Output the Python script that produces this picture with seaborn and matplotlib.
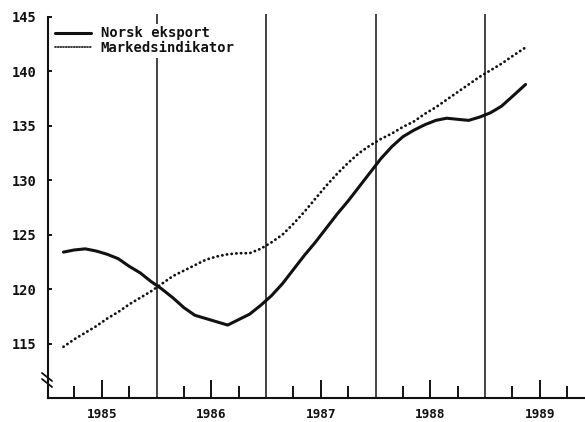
import matplotlib
matplotlib.use("Agg")
import matplotlib.pyplot as plt
import seaborn as sns
import pandas as pd
from matplotlib.lines import Line2D

# ---- data ----
tid = [1985.15, 1985.25, 1985.35, 1985.45, 1985.55, 1985.65, 1985.75, 1985.85, 1985.95,
       1986.05, 1986.15, 1986.25, 1986.35, 1986.45, 1986.55, 1986.65, 1986.75, 1986.85, 1986.95,
       1987.05, 1987.15, 1987.25, 1987.35, 1987.45, 1987.55, 1987.65, 1987.75, 1987.85, 1987.95,
       1988.05, 1988.15, 1988.25, 1988.35, 1988.45, 1988.55, 1988.65, 1988.75, 1988.85, 1988.95,
       1989.05, 1989.15, 1989.25, 1989.37]
norsk_eksport = [123.4, 123.6, 123.7, 123.5, 123.2, 122.8, 122.1, 121.5, 120.7,
                 120.0, 119.2, 118.3, 117.6, 117.3, 117.0, 116.7, 117.2, 117.7, 118.5,
                 119.4, 120.5, 121.8, 123.1, 124.3, 125.6, 126.9, 128.1, 129.4, 130.7,
                 132.0, 133.1, 134.0, 134.6, 135.1, 135.5, 135.7, 135.6, 135.5, 135.8,
                 136.2, 136.8, 137.7, 138.8]
markedsindikator = [114.7, 115.4, 116.0, 116.6, 117.3, 117.9, 118.6, 119.2, 119.8,
                    120.5, 121.2, 121.7, 122.2, 122.7, 123.0, 123.2, 123.3, 123.3, 123.7,
                    124.3, 125.0, 126.0, 127.1, 128.3, 129.5, 130.6, 131.6, 132.5, 133.2,
                    133.8, 134.3, 134.9, 135.4, 136.1, 136.7, 137.4, 138.1, 138.8, 139.5,
                    140.1, 140.7, 141.4, 142.2]
years = [1985, 1986, 1987, 1988, 1989]
year_bounds = [1986, 1987, 1988, 1989]
yticks = [115, 120, 125, 130, 135, 140, 145]
labels = ["Norsk eksport", "Markedsindikator"]

sns.set_theme(style="white")
plt.rcParams['font.family'] = ['DejaVu Sans Mono', 'DejaVu Sans']
plt.rcParams['font.weight'] = 'bold'

W, H = 585, 422
fig = plt.figure(figsize=(W / 100, H / 100), dpi=100)
ax = fig.add_axes([48 / W, 24 / H, 537 / W, (398 - 13.7) / H])

ink = "#111111"
sns.lineplot(x=tid, y=norsk_eksport, ax=ax, color=ink, lw=2.2, label=labels[0],
             solid_capstyle='round', solid_joinstyle='round', zorder=3)
sns.lineplot(x=tid, y=markedsindikator, ax=ax, color=ink, lw=2.0, label=labels[1],
             linestyle=(0, (0.1, 1.6)), dash_capstyle='round', zorder=3)

for b in year_bounds:
    ax.axvline(b, color=ink, lw=1.1, zorder=1)

ax.set_xlim(1985.009, 1989.913)
ax.set_ylim(110, 145.3)

ax.set_xticks([y + 0.5 for y in years])
ax.set_xticklabels([str(y) for y in years])
ax.set_xticks([y + q for y in years for q in (0.25, 0.75)], minor=True)
ax.set_yticks(yticks)
ax.set_yticklabels([str(v) for v in yticks])

ax.tick_params(axis='x', which='major', direction='in', length=13, width=1.4,
               color=ink, labelsize=9.2, pad=7, labelcolor=ink, bottom=True)
ax.tick_params(axis='x', which='minor', direction='in', length=8.6, width=1.4,
               color=ink, bottom=True)
ax.tick_params(axis='y', which='major', direction='in', length=3, width=1.4,
               color=ink, labelsize=9.8, pad=8, labelcolor=ink, left=True)
for t in ax.get_xticklabels() + ax.get_yticklabels():
    t.set_fontweight('bold')

for s in ('top', 'right'):
    ax.spines[s].set_visible(False)
for s in ('left', 'bottom'):
    ax.spines[s].set_color(ink)
    ax.spines[s].set_linewidth(1.5)
ax.spines['left'].set_bounds(110, 145)
ax.grid(False)

# axis break marks
for dy in (0, 6):
    fig.add_artist(Line2D([42 / W, 52 / W], [1 - (373 + dy) / H, 1 - (381 + dy) / H],
                          transform=fig.transFigure, color=ink, lw=1.3))

leg = ax.legend(loc='upper left', bbox_to_anchor=(0.0, 0.985), frameon=True,
                facecolor='white', edgecolor='none', framealpha=1,
                prop={'family': 'DejaVu Sans Mono', 'weight': 'bold', 'size': 10},
                handlelength=2.6, handletextpad=0.7, labelspacing=0.05,
                borderpad=0.2, borderaxespad=0.3)
leg.get_lines()[1].set_linewidth(1.2)
leg.get_lines()[1].set_linestyle((0, (0.6, 1.0)))
for t in leg.get_texts():
    t.set_color(ink)

fig.savefig("out.png", dpi=100)
